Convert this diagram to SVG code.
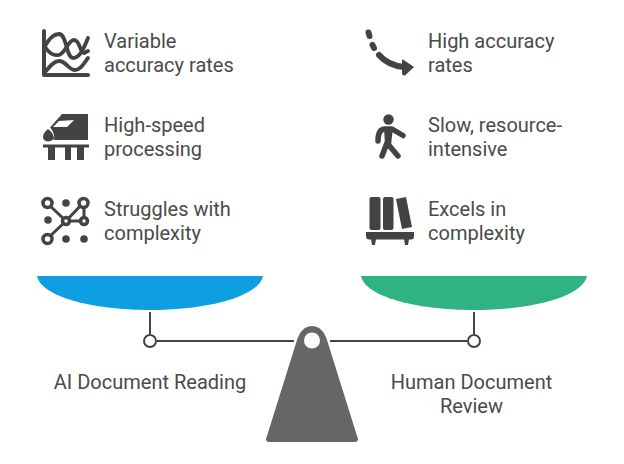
<svg xmlns="http://www.w3.org/2000/svg" width="624" height="464" viewBox="0 0 624 464">
<style>
text{font-family:Roboto,"Liberation Sans",sans-serif;font-size:20px;fill:#4a4a4a}
.s{fill:none;stroke:#444245;stroke-linecap:round;stroke-linejoin:round}
.f{fill:#444245}
.c{fill:none;stroke:#444245;stroke-width:2}
</style>
<rect width="624" height="464" fill="#fff"/>
<g id="connectors">
<path class="c" d="M150 312V334M474 312V334M157 341H294M330 341H467"/>
</g>
<g id="pan-left"><path d="M37 276H263C259 296 210 310 150 310C90 310 41 296 37 276Z" fill="#0e9fe3"/></g>
<g id="pan-right"><path d="M361 276H587C583 296 534 310 474 310C414 310 365 296 361 276Z" fill="#2fb481"/></g>
<g id="pivot-left"><circle cx="150" cy="341" r="6" fill="#fff" stroke="#444245" stroke-width="2"/></g>
<g id="pivot-right"><circle cx="474" cy="341" r="6" fill="#fff" stroke="#444245" stroke-width="2"/></g>
<g id="fulcrum"><path fill-rule="evenodd" d="M297 340C300 331 305 326 312 326C319 326 324 331 327 340L358 439Q358 442 355 442H269Q266 442 266 439ZM312 332.500A8 8 0 1 0 312 348.500A8 8 0 1 0 312 332.500Z" fill="#676567"/></g>
<g id="label-ai"><text x="150" y="389" text-anchor="middle">AI Document Reading</text></g>
<g id="label-human"><text x="471.500" y="389" text-anchor="middle">Human Document</text><text x="471.500" y="413" text-anchor="middle">Review</text></g>
<g id="item-variable">
<path class="s" stroke-width="4" d="M44 31V75H88"/>
<path class="s" stroke-width="3.800" d="M45 46C50 37 55 34 59 34C67 34 66 58 73 58C80 58 84 48 88 38"/>
<path class="s" stroke-width="3.800" d="M45 47C49 53 54 56 59 55C66 53 68 40 74 40C80 40 80 53 84 53L88 51"/>
<path class="s" stroke-width="3.800" d="M46 71C50 66 54 61 59 61C66 61 69 70 75 70C81 70 84 63 88 58"/>
<text x="104" y="48">Variable</text><text x="104" y="72">accuracy rates</text>
</g>
<g id="item-high-accuracy">
<path class="s" stroke-width="6" d="M368.500 32.500L369.500 36"/>
<path class="s" stroke-width="6" d="M372.500 45L374 48"/>
<path class="s" stroke-width="6" d="M379 55C385 62 394 66 404 67"/>
<path class="f" d="M403 59.500L414 67L405 75.500Q402 76 402 73V61Q402 59 403 59.500Z"/>
<text x="428" y="48">High accuracy</text><text x="428" y="72">rates</text>
</g>
<g id="item-speed">
<path class="f" fill-rule="evenodd" d="M62 114H88V140H54C55 135 53 131 50 127.500ZM59 121L53 127H67L74 120Z"/>
<path class="f" d="M48 129C44 132 42 136 43.500 139C45 142 50 142.500 54 139C54 135 52 132 48 129Z"/>
<path class="f" d="M43 144.500H89V147.500H43Z"/>
<path class="f" d="M48 147H55V160H48ZM65 147H71V160H65ZM77 147H84V160H77Z"/>
<text x="104" y="132">High-speed</text><text x="104" y="156">processing</text>
</g>
<g id="item-walk">
<circle class="f" cx="388.500" cy="119.500" r="5.200"/>
<path class="s" stroke-width="5.500" d="M378 141C378 134 380 129 385 129H392L403 135.500M382 156L387 143L398 156"/>
<path class="f" d="M384 128H393L391 145H385Z"/>
<text x="428" y="132">Slow, resource-</text><text x="428" y="156">intensive</text>
</g>
<g id="item-complexity">
<path class="s" stroke-width="3" d="M47 203L66 221L83 203M66 221L47 239M66 221H84M84 203V221"/>
<g fill="#fff" stroke="#444245" stroke-width="3.500"><circle cx="47.500" cy="203" r="4.500"/><circle cx="83.500" cy="203" r="4.500"/><circle cx="47.500" cy="239" r="4.500"/><circle cx="66" cy="221" r="3.500"/><circle cx="84" cy="221" r="3.500"/></g>
<g class="f"><circle cx="66" cy="203" r="3.800"/><circle cx="48" cy="220" r="3.800"/><circle cx="66" cy="239" r="3.800"/><circle cx="84" cy="239" r="3.800"/></g>
<text x="104" y="216">Struggles with</text><text x="104" y="240">complexity</text>
</g>
<g id="item-books">
<rect class="f" x="369.500" y="197" width="11" height="33" rx="2"/>
<rect class="f" x="383" y="197" width="10.500" height="33" rx="2"/>
<path class="f" d="M396 199L406 197L412 227L402 229Z"/>
<path class="f" d="M366 232H414V236Q414 239.500 411 239.500H369Q366 239.500 366 236Z"/>
<path class="f" d="M371 239H376L375 245H372ZM404 239H409L408 245H405Z"/>
<text x="428" y="216">Excels in</text><text x="428" y="240">complexity</text>
</g>
</svg>
